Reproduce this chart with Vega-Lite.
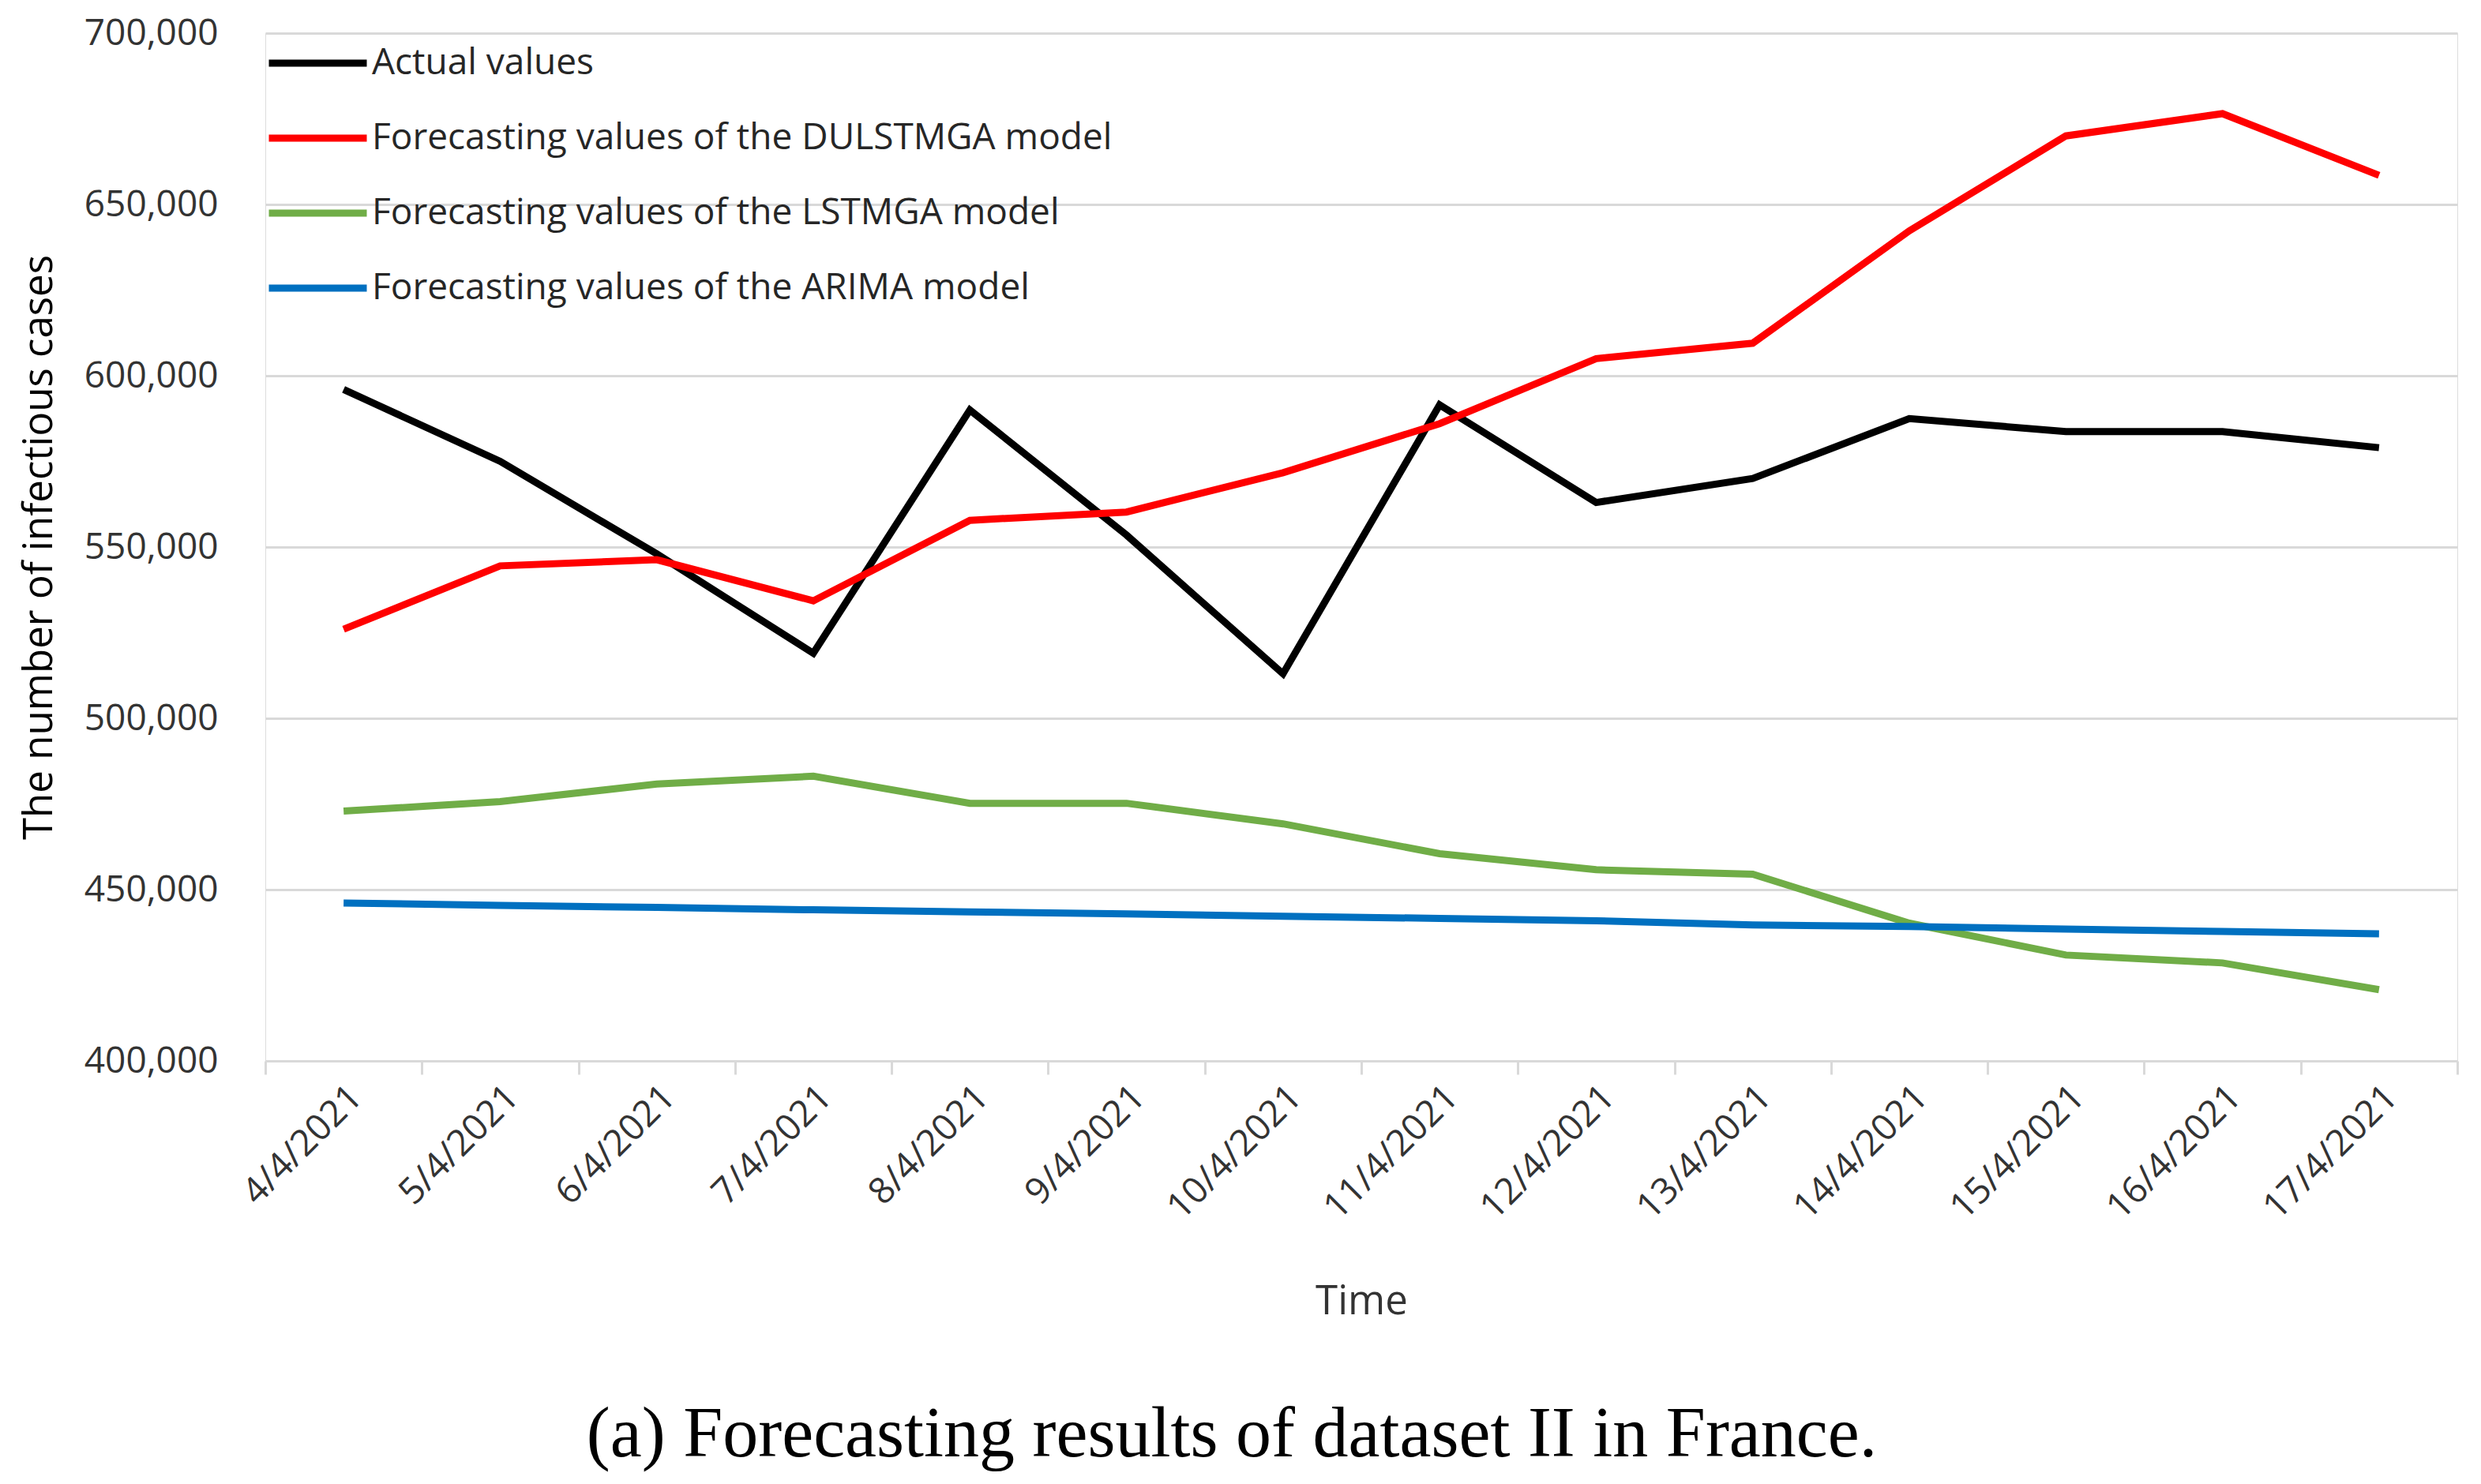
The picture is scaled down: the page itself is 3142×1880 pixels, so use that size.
{
  "$schema": "https://vega.github.io/schema/vega-lite/v6.json",
  "autosize": "none",
  "width": 2776,
  "height": 1302,
  "padding": {"left": 336, "top": 42, "right": 30, "bottom": 536},
  "background": "white",
  "title": {
    "text": "(a) Forecasting results of dataset II in France.",
    "orient": "bottom",
    "anchor": "middle",
    "dx": -164,
    "offset": 100,
    "font": "Liberation Serif",
    "fontSize": 90,
    "fontWeight": "normal",
    "color": "#000000"
  },
  "data": {
    "values": [
      {"date": "4/4/2021", "series": "Actual values", "value": 596000},
      {"date": "5/4/2021", "series": "Actual values", "value": 575000},
      {"date": "6/4/2021", "series": "Actual values", "value": 548000},
      {"date": "7/4/2021", "series": "Actual values", "value": 519000},
      {"date": "8/4/2021", "series": "Actual values", "value": 590000},
      {"date": "9/4/2021", "series": "Actual values", "value": 553500},
      {"date": "10/4/2021", "series": "Actual values", "value": 513000},
      {"date": "11/4/2021", "series": "Actual values", "value": 591500},
      {"date": "12/4/2021", "series": "Actual values", "value": 563000},
      {"date": "13/4/2021", "series": "Actual values", "value": 570000},
      {"date": "14/4/2021", "series": "Actual values", "value": 587500},
      {"date": "15/4/2021", "series": "Actual values", "value": 583700},
      {"date": "16/4/2021", "series": "Actual values", "value": 583700},
      {"date": "17/4/2021", "series": "Actual values", "value": 579000},
      {"date": "4/4/2021", "series": "Forecasting values of the DULSTMGA model", "value": 526000},
      {"date": "5/4/2021", "series": "Forecasting values of the DULSTMGA model", "value": 544500},
      {"date": "6/4/2021", "series": "Forecasting values of the DULSTMGA model", "value": 546300},
      {"date": "7/4/2021", "series": "Forecasting values of the DULSTMGA model", "value": 534300},
      {"date": "8/4/2021", "series": "Forecasting values of the DULSTMGA model", "value": 557800},
      {"date": "9/4/2021", "series": "Forecasting values of the DULSTMGA model", "value": 560200},
      {"date": "10/4/2021", "series": "Forecasting values of the DULSTMGA model", "value": 571700},
      {"date": "11/4/2021", "series": "Forecasting values of the DULSTMGA model", "value": 586000},
      {"date": "12/4/2021", "series": "Forecasting values of the DULSTMGA model", "value": 605000},
      {"date": "13/4/2021", "series": "Forecasting values of the DULSTMGA model", "value": 609500},
      {"date": "14/4/2021", "series": "Forecasting values of the DULSTMGA model", "value": 642300},
      {"date": "15/4/2021", "series": "Forecasting values of the DULSTMGA model", "value": 670000},
      {"date": "16/4/2021", "series": "Forecasting values of the DULSTMGA model", "value": 676500},
      {"date": "17/4/2021", "series": "Forecasting values of the DULSTMGA model", "value": 658500},
      {"date": "4/4/2021", "series": "Forecasting values of the LSTMGA model", "value": 472900},
      {"date": "5/4/2021", "series": "Forecasting values of the LSTMGA model", "value": 475700},
      {"date": "6/4/2021", "series": "Forecasting values of the LSTMGA model", "value": 480800},
      {"date": "7/4/2021", "series": "Forecasting values of the LSTMGA model", "value": 483100},
      {"date": "8/4/2021", "series": "Forecasting values of the LSTMGA model", "value": 475200},
      {"date": "9/4/2021", "series": "Forecasting values of the LSTMGA model", "value": 475200},
      {"date": "10/4/2021", "series": "Forecasting values of the LSTMGA model", "value": 469200},
      {"date": "11/4/2021", "series": "Forecasting values of the LSTMGA model", "value": 460500},
      {"date": "12/4/2021", "series": "Forecasting values of the LSTMGA model", "value": 455800},
      {"date": "13/4/2021", "series": "Forecasting values of the LSTMGA model", "value": 454500},
      {"date": "14/4/2021", "series": "Forecasting values of the LSTMGA model", "value": 440200},
      {"date": "15/4/2021", "series": "Forecasting values of the LSTMGA model", "value": 430900},
      {"date": "16/4/2021", "series": "Forecasting values of the LSTMGA model", "value": 428600},
      {"date": "17/4/2021", "series": "Forecasting values of the LSTMGA model", "value": 420800},
      {"date": "4/4/2021", "series": "Forecasting values of the ARIMA model", "value": 446100},
      {"date": "5/4/2021", "series": "Forecasting values of the ARIMA model", "value": 445400},
      {"date": "6/4/2021", "series": "Forecasting values of the ARIMA model", "value": 444800},
      {"date": "7/4/2021", "series": "Forecasting values of the ARIMA model", "value": 444100},
      {"date": "8/4/2021", "series": "Forecasting values of the ARIMA model", "value": 443500},
      {"date": "9/4/2021", "series": "Forecasting values of the ARIMA model", "value": 442900},
      {"date": "10/4/2021", "series": "Forecasting values of the ARIMA model", "value": 442200},
      {"date": "11/4/2021", "series": "Forecasting values of the ARIMA model", "value": 441600},
      {"date": "12/4/2021", "series": "Forecasting values of the ARIMA model", "value": 440900},
      {"date": "13/4/2021", "series": "Forecasting values of the ARIMA model", "value": 439700},
      {"date": "14/4/2021", "series": "Forecasting values of the ARIMA model", "value": 439200},
      {"date": "15/4/2021", "series": "Forecasting values of the ARIMA model", "value": 438500},
      {"date": "16/4/2021", "series": "Forecasting values of the ARIMA model", "value": 437800},
      {"date": "17/4/2021", "series": "Forecasting values of the ARIMA model", "value": 437100}
    ]
  },
  "mark": {"type": "line", "strokeWidth": 9, "strokeJoin": "miter", "strokeCap": "butt"},
  "encoding": {
    "x": {
      "field": "date",
      "type": "ordinal",
      "sort": null,
      "bandPosition": 0.5,
      "scale": {"type": "band", "paddingInner": 0, "paddingOuter": 0},
      "axis": {
        "title": "Time",
        "tickBand": "extent",
        "grid": false,
        "domain": true,
        "domainColor": "#D9D9D9",
        "domainWidth": 3,
        "ticks": true,
        "tickColor": "#D9D9D9",
        "tickWidth": 3,
        "tickSize": 17,
        "labelAngle": -45,
        "labelFont": "Open Sans",
        "labelFontSize": 46,
        "labelColor": "#333333",
        "labelPadding": 6,
        "labelDx": -10,
        "labelLimit": 1000,
        "labelOverlap": false,
        "titleFont": "Open Sans",
        "titleFontSize": 51,
        "titleFontWeight": "normal",
        "titleColor": "#333333",
        "titlePadding": 80
      }
    },
    "y": {
      "field": "value",
      "type": "quantitative",
      "scale": {"domain": [400000, 700000], "nice": false, "zero": false},
      "axis": {
        "title": "The number of infectious cases",
        "values": [400000, 450000, 500000, 550000, 600000, 650000, 700000],
        "format": ",d",
        "domain": false,
        "ticks": false,
        "grid": true,
        "gridColor": "#D9D9D9",
        "gridWidth": 3,
        "labelFont": "Open Sans",
        "labelFontSize": 46,
        "labelColor": "#333333",
        "labelPadding": 60,
        "titleFont": "Open Sans",
        "titleFontSize": 51,
        "titleFontWeight": "normal",
        "titleColor": "#000000",
        "titlePadding": 60
      }
    },
    "color": {
      "field": "series",
      "type": "nominal",
      "scale": {
        "domain": ["Actual values", "Forecasting values of the DULSTMGA model", "Forecasting values of the LSTMGA model", "Forecasting values of the ARIMA model"],
        "range": ["#000000", "#FF0000", "#70AD47", "#0070C0"]
      },
      "legend": {
        "title": null,
        "orient": "none",
        "legendX": 0,
        "legendY": 8,
        "padding": 0,
        "symbolType": "stroke",
        "symbolSize": 15376,
        "symbolStrokeWidth": 9,
        "clipHeight": 60,
        "rowPadding": 35,
        "labelOffset": 2,
        "labelFont": "Open Sans",
        "labelFontSize": 46,
        "labelColor": "#262626",
        "labelLimit": 2000
      }
    }
  }
}
